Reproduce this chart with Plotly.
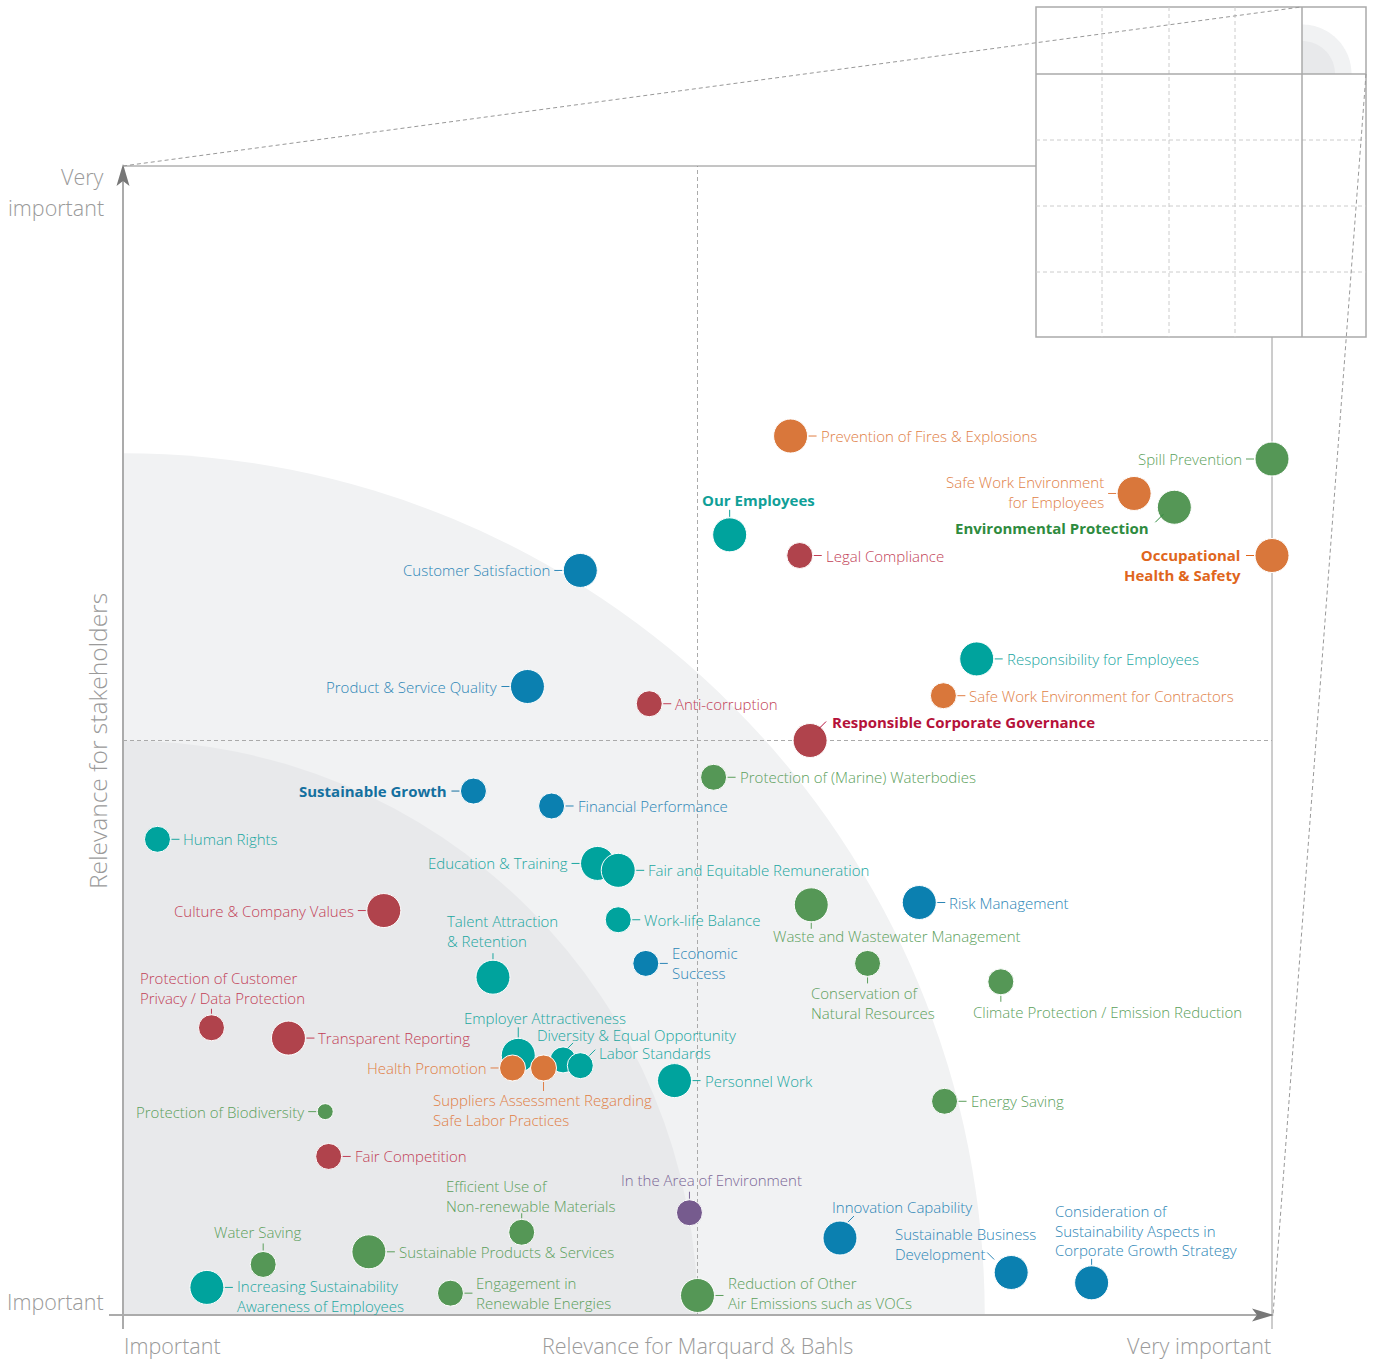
import math
import plotly.graph_objects as go

# ---------------- data ----------------
topics = [
    "Prevention of Fires & Explosions",
    "Spill Prevention",
    "Safe Work Environment\nfor Employees",
    "Environmental Protection",
    "Occupational\nHealth & Safety",
    "Our Employees",
    "Legal Compliance",
    "Customer Satisfaction",
    "Responsibility for Employees",
    "Safe Work Environment for Contractors",
    "Product & Service Quality",
    "Anti-corruption",
    "Responsible Corporate Governance",
    "Protection of (Marine) Waterbodies",
    "Sustainable Growth",
    "Financial Performance",
    "Human Rights",
    "Education & Training",
    "Fair and Equitable Remuneration",
    "Risk Management",
    "Waste and Wastewater Management",
    "Culture & Company Values",
    "Work-life Balance",
    "Talent Attraction\n& Retention",
    "Economic\nSuccess",
    "Conservation of\nNatural Resources",
    "Climate Protection / Emission Reduction",
    "Protection of Customer\nPrivacy / Data Protection",
    "Transparent Reporting",
    "Employer Attractiveness",
    "Diversity & Equal Opportunity",
    "Labor Standards",
    "Health Promotion",
    "Suppliers Assessment Regarding\nSafe Labor Practices",
    "Personnel Work",
    "Energy Saving",
    "Protection of Biodiversity",
    "Fair Competition",
    "In the Area of Environment",
    "Efficient Use of\nNon-renewable Materials",
    "Innovation Capability",
    "Sustainable Business\nDevelopment",
    "Consideration of\nSustainability Aspects in\nCorporate Growth Strategy",
    "Water Saving",
    "Sustainable Products & Services",
    "Increasing Sustainability\nAwareness of Employees",
    "Engagement in\nRenewable Energies",
    "Reduction of Other\nAir Emissions such as VOCs",
]

relevance_company = [
    0.581, 1.000, 0.880, 0.915, 1.000, 0.528, 0.589, 0.398, 0.743, 0.714,
    0.352, 0.458, 0.598, 0.514, 0.305, 0.373, 0.030, 0.413, 0.431, 0.693,
    0.599, 0.227, 0.431, 0.322, 0.455, 0.648, 0.764, 0.077, 0.144, 0.344,
    0.383, 0.398, 0.339, 0.366, 0.480, 0.715, 0.176, 0.179, 0.493, 0.347,
    0.624, 0.773, 0.843, 0.122, 0.214, 0.073, 0.285, 0.500,
]

relevance_stakeholders = [
    0.765, 0.745, 0.715, 0.703, 0.661, 0.679, 0.661, 0.648, 0.571, 0.539,
    0.547, 0.532, 0.500, 0.468, 0.456, 0.443, 0.414, 0.393, 0.387, 0.359,
    0.357, 0.352, 0.344, 0.294, 0.306, 0.306, 0.290, 0.250, 0.241, 0.226,
    0.222, 0.217, 0.215, 0.215, 0.204, 0.186, 0.177, 0.138, 0.089, 0.072,
    0.067, 0.037, 0.028, 0.044, 0.055, 0.024, 0.019, 0.017,
]

weight = [
    3, 3, 3, 3, 3, 3, 2, 3, 3, 2,
    3, 2, 3, 2, 2, 2, 2, 3, 3, 3,
    3, 3, 2, 3, 2, 2, 2, 2, 3, 3,
    2, 2, 2, 2, 3, 2, 1, 2, 2, 2,
    3, 3, 3, 2, 3, 3, 2, 3,
]

category = [
    "Safety", "Environment", "Safety", "Environment", "Safety", "People", "Governance", "Economy", "People", "Safety",
    "Economy", "Governance", "Governance", "Environment", "Economy", "Economy", "People", "People", "People", "Economy",
    "Environment", "Governance", "People", "People", "Economy", "Environment", "Environment", "Governance", "Governance", "People",
    "People", "People", "Safety", "Safety", "People", "Environment", "Environment", "Governance", "Other", "Environment",
    "Economy", "Economy", "Economy", "Environment", "Environment", "People", "Environment", "Environment",
]

highlighted = [
    "Our Employees", "Environmental Protection", "Occupational\nHealth & Safety",
    "Responsible Corporate Governance", "Sustainable Growth",
]

# ---------------- styles ----------------
marker_color = {"Safety": "#D9773B", "Environment": "#559756", "People": "#00A39D",
                "Economy": "#0B80B0", "Governance": "#B0434C", "Other": "#765B8E"}
text_color = {"Safety": "#E07E45", "Environment": "#5C9F5C", "People": "#1AA69F",
              "Economy": "#2C86B6", "Governance": "#C23F57", "Other": "#7B6796"}
bold_color = {"Our Employees": "#10A098", "Environmental Protection": "#2E8B3E",
              "Occupational\nHealth & Safety": "#E0661C",
              "Responsible Corporate Governance": "#B5123A", "Sustainable Growth": "#14709F"}
size_px = {1: 16, 2: 26, 3: 34}

FONT = "Open Sans"
LINE = 17

# label placement: ('r'|'l', first_line_dy) or ('c', anchor, dx, dy, connector(x0,y0,x1,y1)); pixel offsets, y down
label_place = [
    ("r",), ("l",), ("l", -10), ("c", "right", -24, 21, (-19, 15, -11, 7)), ("c", "right", -30, 1, (-18, 0, -26, 0)),
    ("c", "center", 29, -35, (0, -18, 0, -25)), ("r",), ("l",), ("r",), ("r",),
    ("l",), ("r",), ("c", "left", 21, -19, (9, -12, 16, -19)), ("r",), ("l",),
    ("r",), ("r",), ("l",), ("r",), ("r",),
    ("c", "center", 86, 31, (0, 18, 0, 24)), ("l",), ("r",), ("c", "left", -47, -55, (0, -18, 0, -24)), ("r",),
    ("c", "left", -58, 31, (0, 14, 0, 20)), ("c", "center", 107, 30, (0, 14, 0, 20)),
    ("c", "left", -72, -48, (0, -14, 0, -19)), ("r",), ("c", "left", -55, -37, (0, -18, 0, -28)),
    ("c", "left", -27, -25, (5, -12, 10, -17)), ("c", "left", 18, -13, (9, -10, 15, -16)), ("l",),
    ("c", "left", -112, 34, (0, 14, 0, 23)), ("r",),
    ("r",), ("l",), ("r",), ("c", "center", 22, -33, (0, -14, 0, -21)), ("c", "left", -77, -45, (0, -14, 0, -19)),
    ("c", "left", -9, -31, (8, -16, 14, -22)), ("c", "left", -117, -37, (-24, -20, -17, -13)),
    ("c", "left", -38, -69, (0, -18, 0, -24)), ("c", "center", -5, -32, (0, -14, 0, -21)), ("r",),
    ("r", 0), ("r", -9), ("r", -11),
]

# ---------------- figure ----------------
L0, B0, S = 123, 1315, 1149.0  # plot origin pixels and scale (plot spans 1149 px)


def PX(px):
    return (px - L0) / S


def PY(py):
    return (B0 - py) / S


fig = go.Figure()
fig.add_trace(go.Scatter(
    x=relevance_company, y=relevance_stakeholders, mode="markers",
    text=[t.replace("\n", " ") for t in topics], hoverinfo="text",
    marker=dict(size=[size_px[w] for w in weight],
                color=[marker_color[c] for c in category],
                line=dict(color="white", width=1), opacity=1),
    cliponaxis=False, showlegend=False,
))

shapes = []
annotations = []

# background quarter circles
shapes.append(dict(type="circle", xref="x", yref="y", x0=-0.75, x1=0.75, y0=-0.75, y1=0.75,
                   fillcolor="#F1F2F3", line=dict(width=0), layer="below"))
shapes.append(dict(type="circle", xref="x", yref="y", x0=-0.5, x1=0.5, y0=-0.5, y1=0.5,
                   fillcolor="#E8E9EB", line=dict(width=0), layer="below"))
# mid lines
shapes.append(dict(type="line", xref="x", yref="y", x0=0.5, x1=0.5, y0=0, y1=1,
                   line=dict(color="#AAAAAA", width=1, dash="4px,3px"), layer="below"))
shapes.append(dict(type="line", xref="x", yref="y", x0=0, x1=1, y0=0.5, y1=0.5,
                   line=dict(color="#AAAAAA", width=1, dash="4px,3px"), layer="below"))

# frame lines
shapes.append(dict(type="line", xref="paper", yref="paper", x0=PX(123), x1=PX(1036), y0=PY(166), y1=PY(166),
                   line=dict(color="#8A8A8A", width=1)))
shapes.append(dict(type="line", xref="paper", yref="paper", x0=PX(1272), x1=PX(1272), y0=PY(337), y1=PY(1329),
                   line=dict(color="#9A9A9A", width=1), layer="below"))
# axes
shapes.append(dict(type="line", xref="paper", yref="paper", x0=PX(123), x1=PX(123), y0=PY(1329), y1=PY(180),
                   line=dict(color="#ABABAB", width=2)))
shapes.append(dict(type="line", xref="paper", yref="paper", x0=PX(109), x1=PX(1258), y0=PY(1315), y1=PY(1315),
                   line=dict(color="#ABABAB", width=2)))
shapes.append(dict(type="path", xref="paper", yref="paper",
                   path="M %f,%f L %f,%f L %f,%f L %f,%f Z" % (PX(123), PY(164), PX(116.5), PY(186),
                                                               PX(123), PY(181), PX(129.5), PY(186)),
                   fillcolor="#777777", line=dict(width=0)))
shapes.append(dict(type="path", xref="paper", yref="paper",
                   path="M %f,%f L %f,%f L %f,%f L %f,%f Z" % (PX(1274), PY(1315), PX(1252), PY(1308.5),
                                                               PX(1257), PY(1315), PX(1252), PY(1321.5)),
                   fillcolor="#777777", line=dict(width=0)))

# inset box
shapes.append(dict(type="rect", xref="paper", yref="paper", x0=PX(1036), x1=PX(1366), y0=PY(337), y1=PY(7),
                   fillcolor="white", line=dict(color="#AAAAAA", width=1.5)))


def quarter(cx, cy, r, n=40):
    pts = ["M %f,%f" % (PX(cx), PY(cy))]
    for i in range(n + 1):
        a = math.pi / 2 * i / n
        pts.append("L %f,%f" % (PX(cx + r * math.cos(a)), PY(cy - r * math.sin(a))))
    return " ".join(pts) + " Z"


shapes.append(dict(type="path", xref="paper", yref="paper", path=quarter(1302, 74, 49.5),
                   fillcolor="#F1F2F3", line=dict(width=0)))
shapes.append(dict(type="path", xref="paper", yref="paper", path=quarter(1302, 74, 33),
                   fillcolor="#E8E9EB", line=dict(width=0)))
for gx in (1102, 1169, 1235):
    shapes.append(dict(type="line", xref="paper", yref="paper", x0=PX(gx), x1=PX(gx), y0=PY(7), y1=PY(337),
                       line=dict(color="#CCCCCC", width=1, dash="4px,3px")))
for gy in (140, 206, 272):
    shapes.append(dict(type="line", xref="paper", yref="paper", x0=PX(1036), x1=PX(1366), y0=PY(gy), y1=PY(gy),
                       line=dict(color="#CCCCCC", width=1, dash="4px,3px")))
shapes.append(dict(type="line", xref="paper", yref="paper", x0=PX(1302), x1=PX(1302), y0=PY(7), y1=PY(337),
                   line=dict(color="#AAAAAA", width=1.5)))
shapes.append(dict(type="line", xref="paper", yref="paper", x0=PX(1036), x1=PX(1366), y0=PY(74), y1=PY(74),
                   line=dict(color="#AAAAAA", width=1.5)))
# zoom guide lines
shapes.append(dict(type="line", xref="paper", yref="paper", x0=PX(123), x1=PX(1301), y0=PY(166), y1=PY(7),
                   line=dict(color="#999999", width=1, dash="4px,3px")))
shapes.append(dict(type="line", xref="paper", yref="paper", x0=PX(1366), x1=PX(1273), y0=PY(74), y1=PY(1315),
                   line=dict(color="#999999", width=1, dash="4px,3px")))

# labels + connectors
for i, name in enumerate(topics):
    xv, yv = relevance_company[i], relevance_stakeholders[i]
    r = size_px[weight[i]] / 2.0
    lines = name.split("\n")
    spec = label_place[i]
    if spec[0] == "r":
        anchor, dx = "left", r + 12
        dy = spec[1] if len(spec) > 1 else (0 if len(lines) == 1 else -8.5)
        conn = (r + 1, 0, r + 9, 0)
    elif spec[0] == "l":
        anchor, dx = "right", -(r + 12)
        dy = spec[1] if len(spec) > 1 else (0 if len(lines) == 1 else -8.5)
        conn = (-r - 1, 0, -r - 9, 0)
    else:
        _, anchor, dx, dy, conn = spec
    is_bold = name in highlighted
    col = bold_color[name] if is_bold else text_color[category[i]]
    block_center = dy + (len(lines) - 1) * LINE / 2.0
    annotations.append(dict(
        x=xv, y=yv, xref="x", yref="y", text="<br>".join(lines), showarrow=False,
        xanchor=anchor, align=anchor, yanchor="middle", xshift=dx, yshift=-block_center,
        borderpad=0,
        font=dict(family=FONT, size=15, color=col, weight=700 if is_bold else 300),
    ))
    shapes.append(dict(type="line", xref="x", yref="y", xsizemode="pixel", ysizemode="pixel",
                       xanchor=xv, yanchor=yv, x0=conn[0], y0=-conn[1], x1=conn[2], y1=-conn[3],
                       line=dict(color=col, width=1)))

# axis texts
axis_font = dict(family=FONT, size=21.5, color="#9A9A9A", weight=300)
for txt, px, py, anc in [("Very", 105, 176, "right"), ("important", 105, 207, "right"),
                         ("Important", 105, 1301, "right"), ("Important", 123, 1345, "left"),
                         ("Relevance for Marquard & Bahls", 697, 1345, "center"),
                         ("Very important", 1272, 1345, "right")]:
    annotations.append(dict(x=PX(px), y=PY(py), xref="paper", yref="paper", text=txt, showarrow=False,
                            xanchor=anc, yanchor="middle", borderpad=0, font=axis_font))
annotations.append(dict(x=PX(97), y=PY(741), xref="paper", yref="paper", text="Relevance for stakeholders",
                        showarrow=False, xanchor="center", yanchor="middle", textangle=-90, borderpad=0,
                        font=dict(family=FONT, size=24.5, color="#9A9A9A", weight=300)))

fig.update_layout(
    width=1373, height=1360,
    margin=dict(l=123, r=101, t=166, b=45, pad=0),
    paper_bgcolor="white", plot_bgcolor="rgba(0,0,0,0)",
    xaxis=dict(range=[0, 1], showgrid=False, zeroline=False, showticklabels=False, showline=False,
               ticks="", fixedrange=True),
    yaxis=dict(range=[0, 1], showgrid=False, zeroline=False, showticklabels=False, showline=False,
               ticks="", fixedrange=True),
    shapes=shapes, annotations=annotations, showlegend=False,
    font=dict(family=FONT),
)

fig.write_html("out.html")
